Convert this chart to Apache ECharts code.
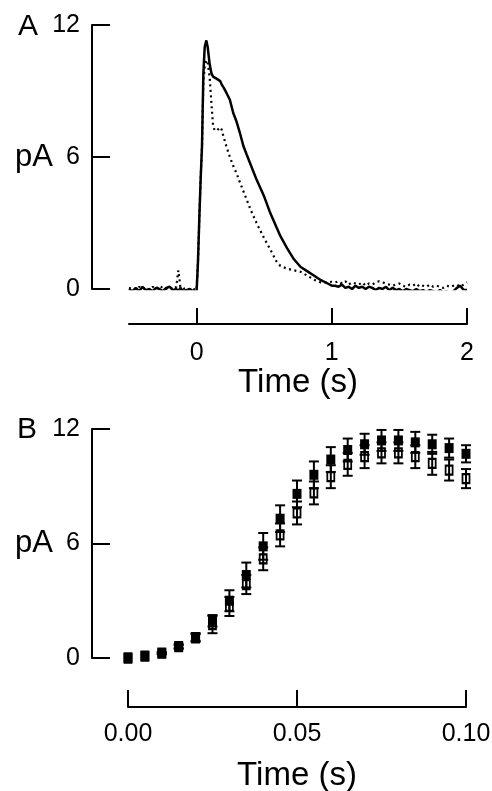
<!DOCTYPE html>
<html>
<head>
<meta charset="utf-8">
<script src="https://cdn.jsdelivr.net/npm/echarts@6/dist/echarts.min.js"></script>
<style>
  html, body { margin: 0; padding: 0; background: #fff; }
  #chart { width: 492px; height: 791px; }
</style>
</head>
<body>
<div id="chart"></div>
<script>
// Panel A: current traces (s, pA)
const timeA = [
  -0.500, -0.475, -0.450, -0.425, -0.400, -0.375, -0.350, -0.325, -0.300, -0.275, -0.250,
  -0.225, -0.200, -0.175, -0.150, -0.135, -0.120, -0.100, -0.075, -0.050, -0.025, 0.000,
  0.010, 0.020, 0.030, 0.040, 0.050, 0.060, 0.072, 0.082, 0.097, 0.110, 0.122, 0.135, 0.150,
  0.160, 0.175, 0.185, 0.200, 0.222, 0.246, 0.271, 0.296, 0.320, 0.346, 0.371, 0.400, 0.445,
  0.500, 0.545, 0.595, 0.620, 0.670, 0.720, 0.770, 0.820, 0.870, 0.920, 0.970, 1.000,
  1.025, 1.050, 1.075, 1.100, 1.125, 1.150, 1.175, 1.200, 1.225, 1.250,
  1.275, 1.300, 1.325, 1.350, 1.375, 1.400, 1.425, 1.450, 1.475, 1.500,
  1.525, 1.550, 1.575, 1.600, 1.625, 1.650, 1.675, 1.700, 1.725, 1.750,
  1.775, 1.800, 1.825, 1.850, 1.875, 1.900, 1.925, 1.950, 1.975, 2.000
];
const solidA = [
  0.0, -0.1, 0.05, -0.1, 0.1, -0.05, 0.0, -0.1, 0.05, 0.0, -0.1,
  0.05, 0.1, -0.05, 0.0, -0.1, 0.05, -0.1, -0.05, 0.0, -0.1, -0.1,
  1.2, 3.2, 5.0, 6.5, 9.8, 11.0, 11.3, 11.0, 10.2, 9.8, 9.65, 9.6, 9.55,
  9.6, 9.45, 9.3, 9.15, 8.9, 8.6, 8.0, 7.6, 7.1, 6.5, 6.1, 5.65, 4.95,
  4.2, 3.45, 2.75, 2.4, 1.85, 1.35, 1.0, 0.8, 0.6, 0.4, 0.25, 0.15,
  0.15, 0.1, 0.2, 0.05, 0.1, 0.0, 0.15, 0.05, 0.1, 0.0,
  0.1, 0.05, -0.05, 0.05, 0.0, 0.1, -0.05, 0.05, -0.05, 0.0,
  -0.1, 0.0, -0.05, -0.1, 0.0, -0.1, -0.05, -0.15, -0.05, -0.1,
  -0.15, -0.05, -0.15, -0.1, -0.2, -0.1, 0.05, 0.15, -0.05, -0.05
];
const dottedA = [
  0.05, 0.0, -0.05, 0.1, 0.0, 0.05, -0.05, 0.1, 0.0, 0.15, 0.05,
  0.0, 0.1, 0.0, 0.1, 0.85, 0.1, 0.0, 0.05, -0.05, 0.0, -0.05,
  1.2, 3.2, 5.0, 6.5, 9.4, 10.1, 10.4, 10.3, 9.6, 8.4, 7.4, 7.2, 7.2,
  7.25, 7.35, 7.25, 6.9, 6.45, 6.0, 5.6, 5.25, 4.85, 4.45, 4.05, 3.6, 2.98,
  2.3, 1.8, 1.2, 1.05, 0.92, 0.85, 0.78, 0.6, 0.42, 0.3, 0.3, 0.33,
  0.3, 0.35, 0.25, 0.35, 0.2, 0.3, 0.25, 0.2, 0.3, 0.15,
  0.25, 0.2, 0.3, 0.35, 0.3, 0.25, 0.2, 0.15, 0.2, 0.25,
  0.15, 0.1, 0.2, 0.15, 0.25, 0.1, 0.15, 0.1, 0.2, 0.1,
  0.15, 0.1, 0.05, 0.15, 0.1, 0.15, 0.2, 0.1, 0.2, 0.3
];

// Panel B: mean +/- error (s, pA)
const timeB = [0, 0.005, 0.01, 0.015, 0.02, 0.025, 0.03, 0.035, 0.04, 0.045, 0.05,
  0.055, 0.06, 0.065, 0.07, 0.075, 0.08, 0.085, 0.09, 0.095, 0.1];
const filledB = [0, 0.1, 0.25, 0.6, 1.1, 1.95, 3.0, 4.35, 5.85, 7.3, 8.6,
  9.6, 10.4, 10.9, 11.2, 11.4, 11.4, 11.3, 11.2, 11.0, 10.7];
const filledErr = [0, 0, 0.05, 0.1, 0.2, 0.3, 0.55, 0.65, 0.7, 0.7, 0.7,
  0.7, 0.65, 0.6, 0.55, 0.55, 0.55, 0.55, 0.5, 0.5, 0.45];
const openB = [0, 0.1, 0.25, 0.6, 1.05, 1.75, 2.7, 3.85, 5.2, 6.45, 7.6,
  8.65, 9.5, 10.15, 10.55, 10.75, 10.75, 10.55, 10.2, 9.85, 9.4];
const openErr = [0, 0, 0.05, 0.1, 0.2, 0.45, 0.5, 0.5, 0.6, 0.6, 0.6,
  0.6, 0.6, 0.6, 0.6, 0.55, 0.55, 0.6, 0.6, 0.55, 0.5];

const yTicks = [0, 6, 12];
const xTicksA = [0, 1, 2];

const FONT = '"Liberation Sans", Arial, sans-serif';
const black = '#000';

const chart = echarts.init(document.getElementById('chart'));

function pairs(xs, ys) {
  return xs.map((x, i) => [x, ys[i]]);
}
function errData(xs, ys, es) {
  return xs.map((x, i) => [x, ys[i] - es[i], ys[i] + es[i]]);
}

// vertical error bar with caps
function renderErr(params, api) {
  const x = api.value(0);
  const lo = api.coord([x, api.value(1)]);
  const hi = api.coord([x, api.value(2)]);
  if (Math.abs(lo[1] - hi[1]) < 1) return { type: 'group', children: [] };
  const w = 5;
  const style = { stroke: black, lineWidth: 2, fill: null };
  return {
    type: 'group',
    children: [
      { type: 'line', shape: { x1: lo[0], y1: lo[1], x2: hi[0], y2: hi[1] }, style },
      { type: 'line', shape: { x1: lo[0] - w, y1: lo[1], x2: lo[0] + w, y2: lo[1] }, style },
      { type: 'line', shape: { x1: hi[0] - w, y1: hi[1], x2: hi[0] + w, y2: hi[1] }, style }
    ]
  };
}

const axisLine = { show: true, onZero: false, lineStyle: { color: black, width: 2 } };
const labelStyle = { color: black, fontSize: 25, fontFamily: FONT };
const nameStyle = { color: black, fontSize: 33, fontFamily: FONT };

const option = {
  animation: false,
  grid: [
    { left: 129, top: 25, width: 338, height: 264, outerBoundsMode: 'none' },
    { left: 128, top: 429, width: 338, height: 229, outerBoundsMode: 'none' }
  ],
  xAxis: [
    {
      gridIndex: 0, type: 'value', min: -0.5, max: 2, offset: 35,
      axisLine,
      axisTick: { show: true, inside: true, length: 16, lineStyle: { color: black, width: 2 }, customValues: xTicksA },
      axisLabel: { ...labelStyle, margin: 17, customValues: xTicksA },
      splitLine: { show: false },
      name: 'Time (s)', nameLocation: 'middle', nameGap: 42, nameTextStyle: nameStyle
    },
    {
      gridIndex: 1, type: 'value', min: 0, max: 0.1, interval: 0.05, offset: 49,
      axisLine,
      axisTick: { show: true, inside: true, length: 17, lineStyle: { color: black, width: 2 } },
      axisLabel: { ...labelStyle, margin: 15, formatter: v => v.toFixed(2) },
      splitLine: { show: false },
      name: 'Time (s)', nameLocation: 'middle', nameGap: 52, nameTextStyle: nameStyle
    }
  ],
  yAxis: [
    {
      gridIndex: 0, type: 'value', min: 0, max: 12, interval: 6, offset: 37,
      axisLine,
      axisTick: { show: true, inside: true, length: 18, lineStyle: { color: black, width: 2 } },
      axisLabel: { ...labelStyle, margin: 12, customValues: yTicks },
      splitLine: { show: false },
      name: 'pA', nameLocation: 'middle', nameRotate: 0, nameGap: 39, nameMoveOverlap: false,
      nameTextStyle: { ...nameStyle, fontSize: 31 }
    },
    {
      gridIndex: 1, type: 'value', min: 0, max: 12, interval: 6, offset: 36,
      axisLine,
      axisTick: { show: true, inside: true, length: 18, lineStyle: { color: black, width: 2 } },
      axisLabel: { ...labelStyle, margin: 12, customValues: yTicks },
      splitLine: { show: false },
      name: 'pA', nameLocation: 'middle', nameRotate: 0, nameGap: 39, nameMoveOverlap: false,
      nameTextStyle: { ...nameStyle, fontSize: 31 }
    }
  ],
  graphic: [
    { type: 'text', left: 18, top: 12, style: { text: 'A', fill: black, fontSize: 30, fontFamily: FONT } },
    { type: 'text', left: 17, top: 415, style: { text: 'B', fill: black, fontSize: 30, fontFamily: FONT } }
  ],
  series: [
    {
      name: 'dotted', type: 'line', xAxisIndex: 0, yAxisIndex: 0,
      data: pairs(timeA, dottedA), showSymbol: false, symbol: 'none',
      lineStyle: { color: black, width: 2.2, type: [2, 3.5] }
    },
    {
      name: 'solid', type: 'line', xAxisIndex: 0, yAxisIndex: 0,
      data: pairs(timeA, solidA), showSymbol: false, symbol: 'none',
      lineStyle: { color: black, width: 2.5 }
    },
    {
      name: 'open err', type: 'custom', xAxisIndex: 1, yAxisIndex: 1,
      renderItem: renderErr, data: errData(timeB, openB, openErr)
    },
    {
      name: 'open', type: 'scatter', xAxisIndex: 1, yAxisIndex: 1,
      data: pairs(timeB, openB), symbol: 'rect', symbolSize: [7, 9],
      itemStyle: { color: 'rgba(255,255,255,0)', borderColor: black, borderWidth: 2, opacity: 1 }
    },
    {
      name: 'filled err', type: 'custom', xAxisIndex: 1, yAxisIndex: 1,
      renderItem: renderErr, data: errData(timeB, filledB, filledErr)
    },
    {
      name: 'filled', type: 'scatter', xAxisIndex: 1, yAxisIndex: 1,
      data: pairs(timeB, filledB), symbol: 'rect', symbolSize: [9, 10],
      itemStyle: { color: black, opacity: 1 }
    }
  ]
};

chart.setOption(option);
</script>
</body>
</html>
